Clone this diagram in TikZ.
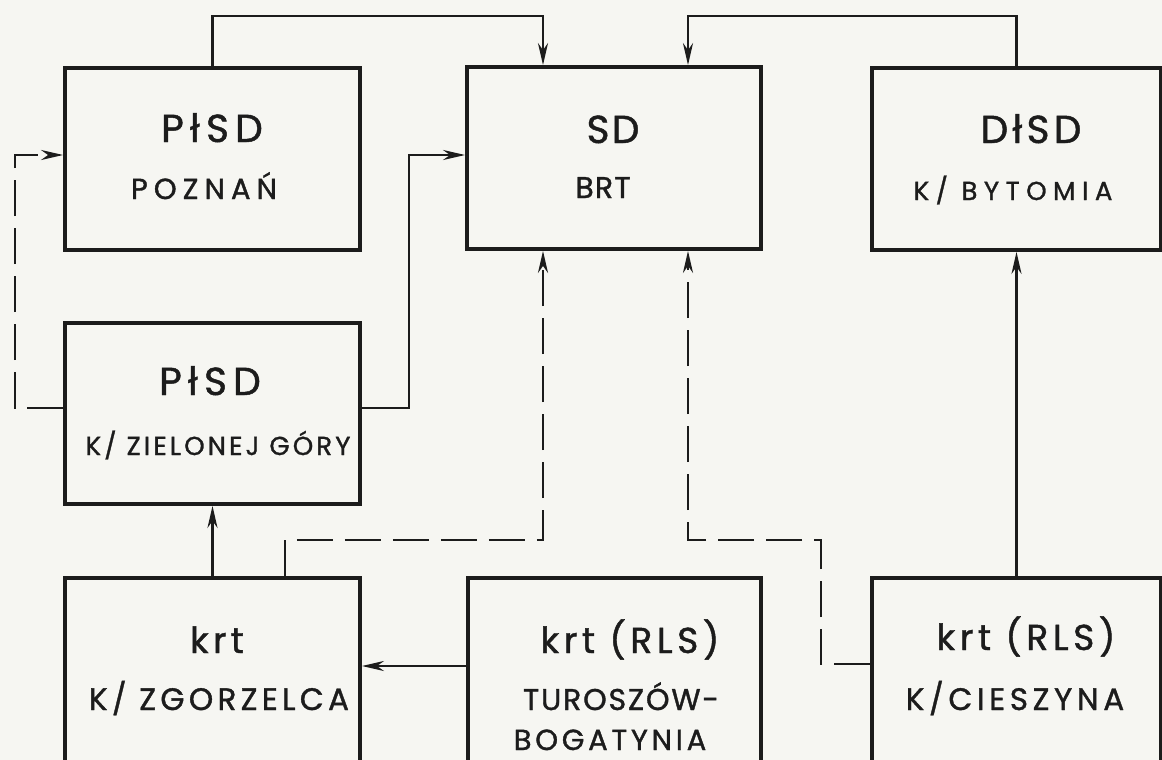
\documentclass[tikz,border=0pt]{standalone}
\usepackage{fontspec}
\setmainfont{Poppins}[FakeBold=1.2]
\usetikzlibrary{arrows.meta}
\definecolor{paper}{RGB}{246,246,242}
\definecolor{ink}{RGB}{28,28,28}
\newcommand\fsz[2]{\fontsize{#1}{#1}\selectfont\addfontfeature{LetterSpace=#2}}
\begin{document}
\begin{tikzpicture}[x=1pt,y=-1pt,
  box/.style={draw=ink, line width=3.8pt, inner sep=0pt, minimum width=295pt, minimum height=182pt},
  conn/.style={draw=ink, line width=2.6pt, -{Stealth[length=22pt,width=10pt,inset=7pt]}},
  dl/.style={dash pattern=on 36pt off 12pt},
  lbl/.style={text=ink, anchor=base, inner sep=0pt}]
\clip (0,0) rectangle (1162,760);
\fill[paper] (0,0) rectangle (1162,760);
% boxes
\node[box] (poz) at (212.5,159) {};
\node[box, minimum width=294pt] (brt) at (614,158) {};
\node[box, minimum width=289pt] (dls) at (1016.5,159) {};
\node[box, minimum height=181pt] (zg) at (212.5,413.5) {};
\node[box, minimum height=222pt] (zgo) at (212.5,689) {};
\node[box, minimum width=293pt, minimum height=222pt] (tur) at (614.5,689) {};
\node[box, minimum width=289pt, minimum height=222pt] (cie) at (1016.5,689) {};
% texts
\node[lbl, font=\fsz{39}{16}] (poz1) at (212,142) {PłSD};
\node[lbl, font=\fsz{29}{21}] (poz2) at (204,199) {POZNAŃ};
\node[lbl, font=\fsz{39}{6}] (brt1) at (613,143) {SD};
\node[lbl, font=\fsz{30}{4}] (brt2) at (603,198) {BRT};
\node[lbl, font=\fsz{39}{11}] (dls1) at (1031,143) {DłSD};
\node[lbl, font=\fsz{26}{25}] (dls2) at (1013,200) {K/ BYTOMIA};
\node[lbl, font=\fsz{39}{16}] (zg1) at (210,395) {PłSD};
\node[lbl, font=\fsz{26}{12}] (zg2) at (218,455) {K/ ZIELONEJ GÓRY};
\node[lbl, font=\fsz{36}{12}] (zgo1) at (217,653) {krt};
\node[lbl, font=\fsz{31}{14}] (zgo2) at (219,710) {K/ ZGORZELCA};
\node[lbl, font=\fsz{36}{13}] (tur1) at (630,653) {krt (RLS)};
\node[lbl, font=\fsz{30}{6}] (tur2) at (621,710) {TUROSZÓW-};
\node[lbl, font=\fsz{29}{13}] (tur3) at (610,750) {BOGATYNIA};
\node[lbl, font=\fsz{36}{13}] (cie1) at (1026,650) {krt (RLS)};
\node[lbl, font=\fsz{31}{15}] (cie2) at (1015,710) {K/CIESZYNA};
% bend points
\coordinate (t1) at (543,16);
\coordinate (t2) at (688,16);
\coordinate (l1) at (15,408);
\coordinate (l2) at (15,155);
\coordinate (r1) at (409,408);
\coordinate (r2) at (409,155);
\coordinate (d1) at (285,540);
\coordinate (d2) at (543,540);
\coordinate (e1) at (821,664);
\coordinate (e2) at (821,540);
\coordinate (e3) at (688,540);
\coordinate (g1) at (0,666);
% connectors
\draw[conn] (poz.north) |- (t1) -- (t1 |- brt.north);
\draw[conn] (dls.north) |- (t2) -- (t2 |- brt.north);
\draw[conn, dl] (zg.west |- l1) -- (l1) -- (l2) -- (poz.west |- l2);
\draw[conn] (zg.east |- r1) -- (r1) -- (r2) -- (brt.west |- r2);
\draw[conn] (zgo.north) -- (zg.south);
\draw[conn, dl] (zgo.north -| d1) -- (d1) -- (d2) -- (d2 |- brt.south);
\draw[conn, dl] (cie.west |- e1) -- (e1) -- (e2) -- (e3) -- (e3 |- brt.south);
\draw[conn] (cie.north) -- (dls.south);
\draw[conn] (tur.west |- g1) -- (zgo.east |- g1);
\end{tikzpicture}
\end{document}
